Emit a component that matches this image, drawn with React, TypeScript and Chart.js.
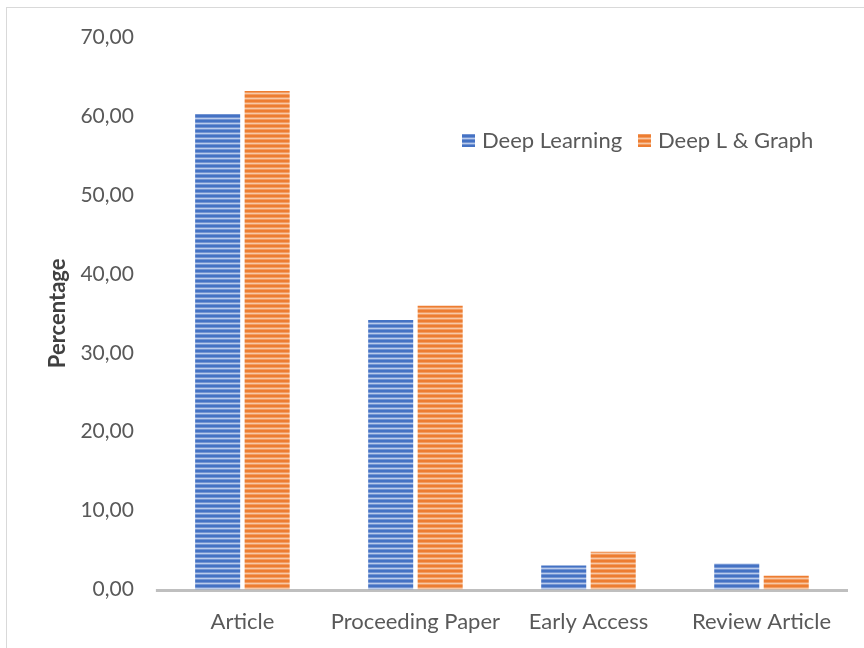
import React, { useEffect, useRef } from "react";
import { Chart, registerables } from "chart.js";

Chart.register(...registerables);

const categories = ["Article", "Proceeding Paper", "Early Access", "Review Article"];
const deepLearning = [60.25, 34.15, 3.05, 3.3];
const deepGraph = [63.15, 35.95, 4.8, 1.75];
const seriesNames = ["Deep Learning", "Deep L & Graph"];
const yTicks = [0, 10, 20, 30, 40, 50, 60, 70];

const FONT = "Lato, sans-serif";
const TEXT = "#595959";

function stripe(dark: string, mid: string, light: string): CanvasPattern | string {
  const c = document.createElement("canvas");
  c.width = 4;
  c.height = 5;
  const ctx = c.getContext("2d");
  if (!ctx) return dark;
  const rows = [dark, dark, mid, light, mid];
  rows.forEach((col, i) => {
    ctx.fillStyle = col;
    ctx.fillRect(0, i, 4, 1);
  });
  return ctx.createPattern(c, "repeat") || dark;
}

export default function App() {
  const ref = useRef<HTMLCanvasElement>(null);
  useEffect(() => {
    if (!ref.current) return;
    const blue = stripe("#4472C4", "#7394D2", "#BACCEC");
    const orange = stripe("#ED7D31", "#F29C61", "#F8C8A6");
    const decorPlugin = {
      id: "decor",
      beforeDatasetsDraw(chart: any) {
        const { ctx, chartArea } = chart;
        ctx.save();
        ctx.strokeStyle = "#BFBFBF";
        ctx.lineWidth = 3;
        ctx.beginPath();
        ctx.moveTo(chartArea.left, chartArea.bottom + 1);
        ctx.lineTo(chartArea.right, chartArea.bottom + 1);
        ctx.stroke();
        ctx.restore();
      },
      afterDraw(chart: any) {
        const ctx = chart.ctx;
        const items = [
          { x: 462, fill: blue, label: seriesNames[0] },
          { x: 638, fill: orange, label: seriesNames[1] },
        ];
        ctx.save();
        ctx.font = `22px ${FONT}`;
        ctx.textBaseline = "middle";
        items.forEach((it) => {
          ctx.fillStyle = it.fill;
          ctx.fillRect(it.x, 134, 13, 13);
          ctx.fillStyle = TEXT;
          ctx.fillText(it.label, it.x + 20, 141);
        });
        ctx.restore();
      },
    };
    const chart = new Chart(ref.current, {
      type: "bar",
      data: {
        labels: categories,
        datasets: [
          { label: seriesNames[0], data: deepLearning, backgroundColor: blue as any },
          { label: seriesNames[1], data: deepGraph, backgroundColor: orange as any },
        ],
      },
      options: {
        animation: false,
        responsive: false,
        maintainAspectRatio: false,
        layout: { padding: { left: 36, right: 16, top: 37, bottom: 0 } },
        datasets: { bar: { categoryPercentage: 0.572, barPercentage: 0.91 } },
        plugins: { legend: { display: false }, tooltip: { enabled: false } },
        scales: {
          x: {
            grid: { display: false, drawTicks: false },
            border: { display: false },
            ticks: {
              color: TEXT,
              font: { family: FONT, size: 22 },
              padding: 19,
              maxRotation: 0,
              minRotation: 0,
              autoSkip: false,
            },
          },
          y: {
            min: 0,
            max: 70,
            afterBuildTicks(scale: any) {
              scale.ticks = yTicks.map((v) => ({ value: v }));
            },
            grid: { display: false, drawTicks: false },
            border: { display: false },
            ticks: {
              color: TEXT,
              font: { family: FONT, size: 21 },
              padding: 22,
              callback: (v: any) => Number(v).toFixed(2).replace(".", ","),
            },
            title: {
              display: true,
              text: "Percentage",
              color: "#404040",
              font: { family: FONT, size: 22, weight: "bold" },
              padding: { top: 9, bottom: -13 },
            },
          },
        },
      },
      plugins: [decorPlugin],
    });
    return () => chart.destroy();
  }, []);
  return (
    <div style={{ position: "fixed", left: 0, top: 0, width: 864, height: 648, background: "#fff", overflow: "hidden" }}>
      <div style={{ position: "absolute", left: 6, top: 7, width: 900, height: 700, border: "1px solid #D9D9D9" }} />
      <canvas ref={ref} width={864} height={654} style={{ position: "absolute", left: 0, top: 0 }} />
    </div>
  );
}
